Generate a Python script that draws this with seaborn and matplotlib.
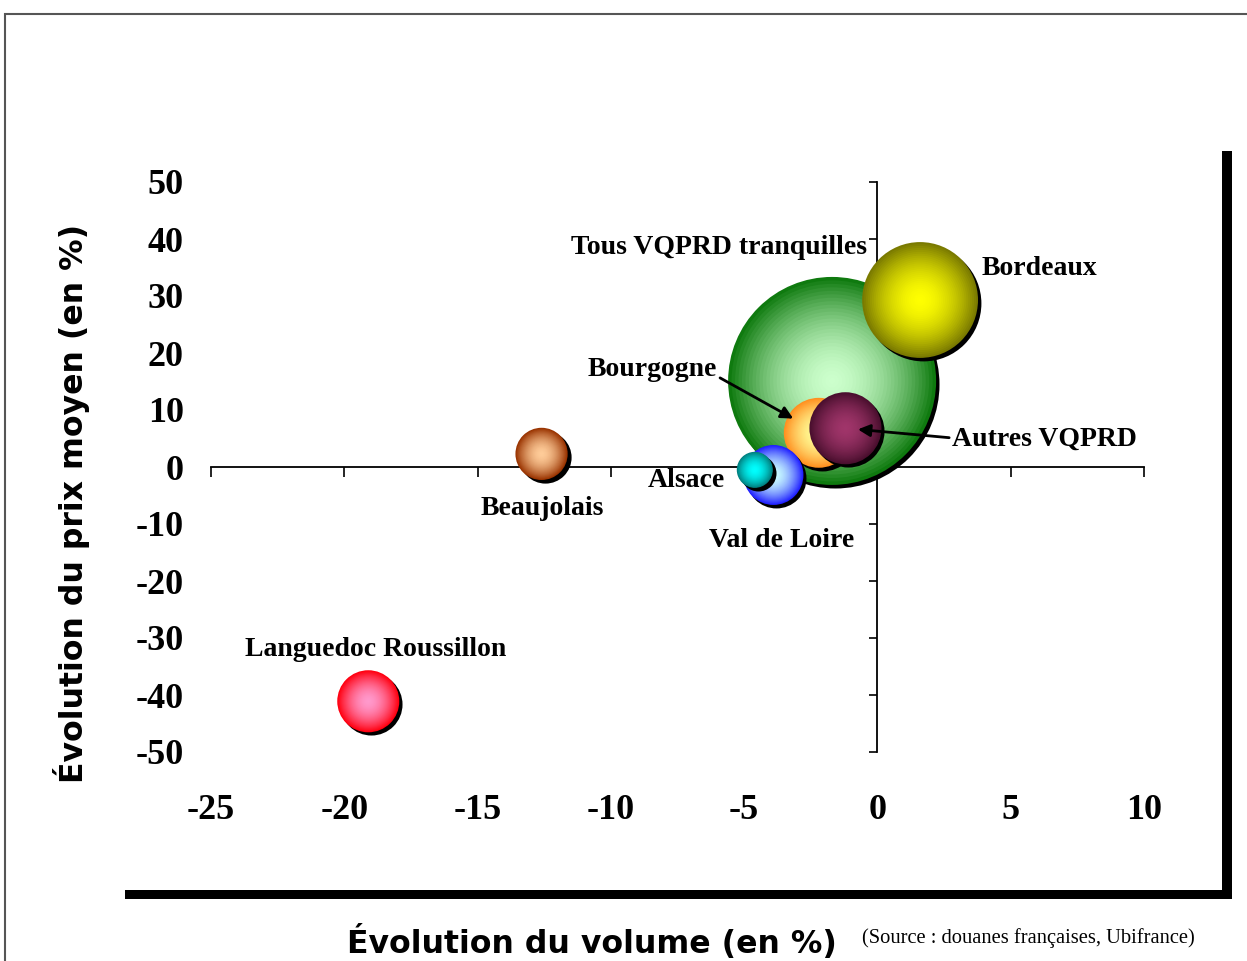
import numpy as np
import pandas as pd
import seaborn as sns
import matplotlib.pyplot as plt
from matplotlib import transforms
from matplotlib.patches import Rectangle
from matplotlib.colors import to_rgb

# Data
regions = ['Tous VQPRD tranquilles', 'Bordeaux', 'Bourgogne', 'Autres VQPRD',
           'Val de Loire', 'Alsace', 'Beaujolais', 'Languedoc Roussillon']
volume = [-1.7, 1.6, -2.2, -1.2, -3.9, -4.6, -12.6, -19.1]   # evolution du volume (%)
prix = [15.1, 29.3, 6.0, 6.8, -1.4, -0.5, 2.3, -41.1]       # evolution du prix moyen (%)
taille = [100, 31.0, 11.3, 12.0, 8.3, 3.0, 6.3, 8.9]        # bubble size (relative)
x_ticks = [-25, -20, -15, -10, -5, 0, 5, 10]
y_ticks = [-50, -40, -30, -20, -10, 0, 10, 20, 30, 40, 50]

# Styles: (edge colour, centre colour)
couleurs = {
    'Tous VQPRD tranquilles': ('#0f7a0f', '#ccffcc'),
    'Bordeaux': ('#7a7a00', '#ffff00'),
    'Bourgogne': ('#ff9020', '#ffff99'),
    'Autres VQPRD': ('#4a0f2e', '#a0356a'),
    'Val de Loire': ('#2020ff', '#ccffff'),
    'Alsace': ('#007f7f', '#00ffff'),
    'Beaujolais': ('#993300', '#ffcc99'),
    'Languedoc Roussillon': ('#ff0010', '#ff99cc'),
}
# label offsets in pixels, alignment
etiquettes = {
    'Tous VQPRD tranquilles': (35, 133, 'right'),
    'Bordeaux': (61, 31, 'left'),
    'Bourgogne': (-102, 63, 'right'),
    'Autres VQPRD': (107, -11, 'left'),
    'Val de Loire': (8, -66, 'center'),
    'Alsace': (-30, -11, 'right'),
    'Beaujolais': (1, -55, 'center'),
    'Languedoc Roussillon': (7, 52, 'center'),
}

sns.set_style('white')
plt.rcParams['font.family'] = ['Liberation Serif', 'DejaVu Serif']
plt.rcParams['font.weight'] = 'bold'
plt.rcParams['axes.unicode_minus'] = False
plt.rcParams['text.color'] = 'black'
plt.rcParams['xtick.color'] = 'black'
plt.rcParams['ytick.color'] = 'black'

fig = plt.figure(figsize=(12.47, 9.61), dpi=100)
ax = fig.add_axes([211/1247, 1-752/961, 933/1247, 570/961])

S_MAX = (2*104*0.72)**2 / 100   # points^2 per unit of taille
N = 30
shadow = ax.transData + transforms.ScaledTranslation(0.03, -0.03, fig.dpi_scale_trans)

for i, name in enumerate(regions):
    edge, centre = (np.array(to_rgb(c)) for c in couleurs[name])
    s = S_MAX * taille[i]
    # shadow
    sns.scatterplot(x=[volume[i]], y=[prix[i]], s=s, color='black', linewidth=0,
                    transform=shadow, zorder=3+i, ax=ax, legend=False, clip_on=False)
    frac = 1 - np.arange(N)/N
    layers = pd.DataFrame({'x': [volume[i]]*N, 'y': [prix[i]]*N, 'layer': np.arange(N)})
    pal = {k: tuple(centre + (edge-centre)*f**1.8) for k, f in enumerate(frac)}
    sizes = {k: s*f**2 for k, f in enumerate(frac)}
    sns.scatterplot(data=layers, x='x', y='y', hue='layer', size='layer', palette=pal,
                    sizes=sizes, linewidth=0, zorder=3+i, ax=ax, legend=False, clip_on=False)

for i, name in enumerate(regions):
    dx, dy, ha = etiquettes[name]
    arrow = None
    if name == 'Bourgogne':
        arrow = dict(arrowstyle='-|>', color='black', lw=2, mutation_scale=18,
                     shrinkA=0, shrinkB=21, relpos=(1, 0.25))
    if name == 'Autres VQPRD':
        arrow = dict(arrowstyle='-|>', color='black', lw=2, mutation_scale=18,
                     shrinkA=0, shrinkB=9, relpos=(0, 0.55))
    ax.annotate(name, xy=(volume[i], prix[i]), xytext=(dx, dy), textcoords='offset pixels',
                ha=ha, va='center', fontsize=20, fontweight='bold', zorder=20,
                arrowprops=arrow)

ax.set_xlim(-25, 10)
ax.set_ylim(-50, 50)
ax.set(xlabel='', ylabel='')
ax.set_xticks(x_ticks)
ax.set_yticks(y_ticks)
ax.spines['left'].set_position(('data', 0))
ax.spines['bottom'].set_position(('data', 0))
ax.spines['top'].set_visible(False)
ax.spines['right'].set_visible(False)
for sp in ['left', 'bottom']:
    ax.spines[sp].set_linewidth(1.3)
    ax.spines[sp].set_color('black')
    ax.spines[sp].set_zorder(2)
ax.tick_params(axis='x', direction='out', length=7.5, width=1.2, color='black',
               bottom=True, labelbottom=False)
ax.tick_params(axis='y', direction='out', length=6, width=1.2, color='black',
               left=True, labelleft=False)
ax.patch.set_alpha(0)

# tick labels at the outer edges
sx = ax.secondary_xaxis('bottom')
sx.set_xticks(x_ticks)
sx.spines['bottom'].set_visible(False)
sx.tick_params(length=0, pad=30, labelsize=26, labelcolor='black')
sy = ax.secondary_yaxis('left')
sy.set_yticks(y_ticks)
sy.spines['left'].set_visible(False)
sy.tick_params(length=0, pad=19.5, labelsize=26, labelcolor='black')
for lbl in sx.get_xticklabels() + sy.get_yticklabels():
    lbl.set_fontweight('bold')

fig.text(592/1247, 1-942/961, 'Évolution du volume (en %)', ha='center', va='center',
         fontsize=22.7, fontweight='bold', family='DejaVu Sans', color='black')
fig.text(72/1247, 1-503/961, 'Évolution du prix moyen (en %)', ha='center', va='center',
         rotation=90, fontsize=22.7, fontweight='bold', family='DejaVu Sans', color='black')
fig.text(862/1247, 1-938/961, '(Source : douanes françaises, Ubifrance)', ha='left',
         va='center', fontsize=14.8, fontweight='normal', color='black')

# outer frame and plot-area shadow
fig.add_artist(Rectangle((5/1247, -0.05), 1.1, (961-14)/961 + 0.05, transform=fig.transFigure,
                         fill=False, edgecolor='#555555', lw=1.5))
fig.add_artist(Rectangle((1222/1247, 1-899/961), 10/1247, (899-151)/961,
                         transform=fig.transFigure, color='black', lw=0))
fig.add_artist(Rectangle((125/1247, 1-899/961), (1232-125)/1247, 9/961,
                         transform=fig.transFigure, color='black', lw=0))

fig.savefig('out.png', dpi=100)
